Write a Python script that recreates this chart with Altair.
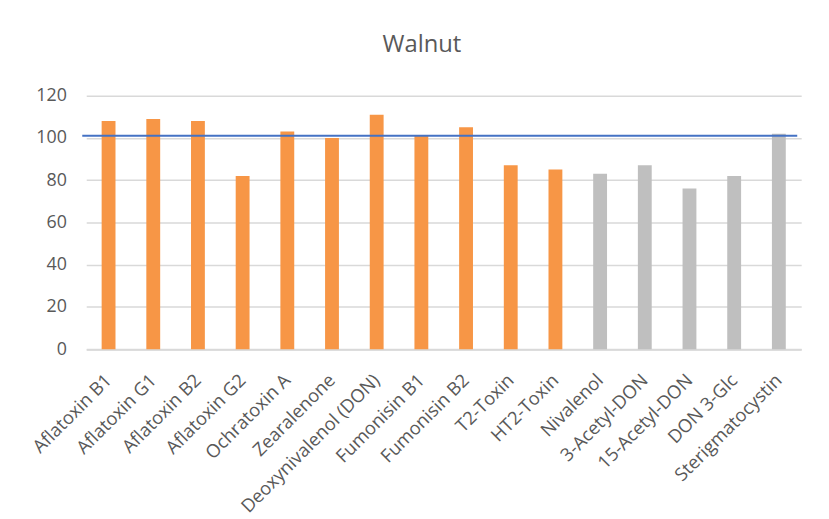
import altair as alt
import pandas as pd

categories = ["Aflatoxin B1", "Aflatoxin G1", "Aflatoxin B2", "Aflatoxin G2",
              "Ochratoxin A", "Zearalenone", "Deoxynivalenol (DON)", "Fumonisin B1",
              "Fumonisin B2", "T2-Toxin", "HT2-Toxin", "Nivalenol", "3-Acetyl-DON",
              "15-Acetyl-DON", "DON 3-Glc", "Sterigmatocystin"]
values = [108, 109, 108, 82, 103, 100, 111, 101, 105, 87, 85, 83, 87, 76, 82, 102]
groups = ["regulated"] * 11 + ["other"] * 5
reference_value = [101]

df = pd.DataFrame({"toxin": categories, "recovery": values, "group": groups})
ref = pd.DataFrame({"ref": reference_value})

FONT = "Open Sans"
LABEL = "#595959"

bars = alt.Chart(df).mark_bar().encode(
    x=alt.X("toxin:N", sort=categories, title=None,
            scale=alt.Scale(paddingInner=0.69, paddingOuter=0.345),
            axis=alt.Axis(labelAngle=-45, labelAlign="right", labelBaseline="middle",
                          labelFont=FONT, labelFontSize=18.5, labelColor=LABEL,
                          labelPadding=28, labelLimit=400, ticks=False,
                          domainColor="#D9D9D9", domainWidth=2, grid=False)),
    y=alt.Y("recovery:Q", title=None,
            scale=alt.Scale(domain=[0, 120], nice=False),
            axis=alt.Axis(values=[0, 20, 40, 60, 80, 100, 120], domain=False, ticks=False,
                          labelFont=FONT, labelFontSize=18, labelColor=LABEL,
                          labelPadding=20, gridColor="#D9D9D9", gridWidth=1.5)),
    color=alt.Color("group:N", legend=None,
                    scale=alt.Scale(domain=["regulated", "other"],
                                    range=["#F79646", "#BFBFBF"])),
)

line = alt.Chart(ref).mark_rule(color="#4472C4", strokeWidth=2).encode(
    y=alt.Y("ref:Q"),
    x=alt.value(-4),
    x2=alt.value(718),
)

chart = alt.layer(bars, line).properties(
    width=722, height=256,
    title=alt.TitleParams("Walnut", font=FONT, fontSize=24, fontWeight="normal",
                          color=LABEL, anchor="middle", frame="group", dx=-22, offset=30),
    autosize=alt.AutoSizeParams(type="none"),
    padding={"left": 79, "top": 86, "right": 20, "bottom": 169},
).configure(background="white").configure_view(stroke=None)

chart.save("out.html", embed_options={"renderer": "svg", "actions": False})
